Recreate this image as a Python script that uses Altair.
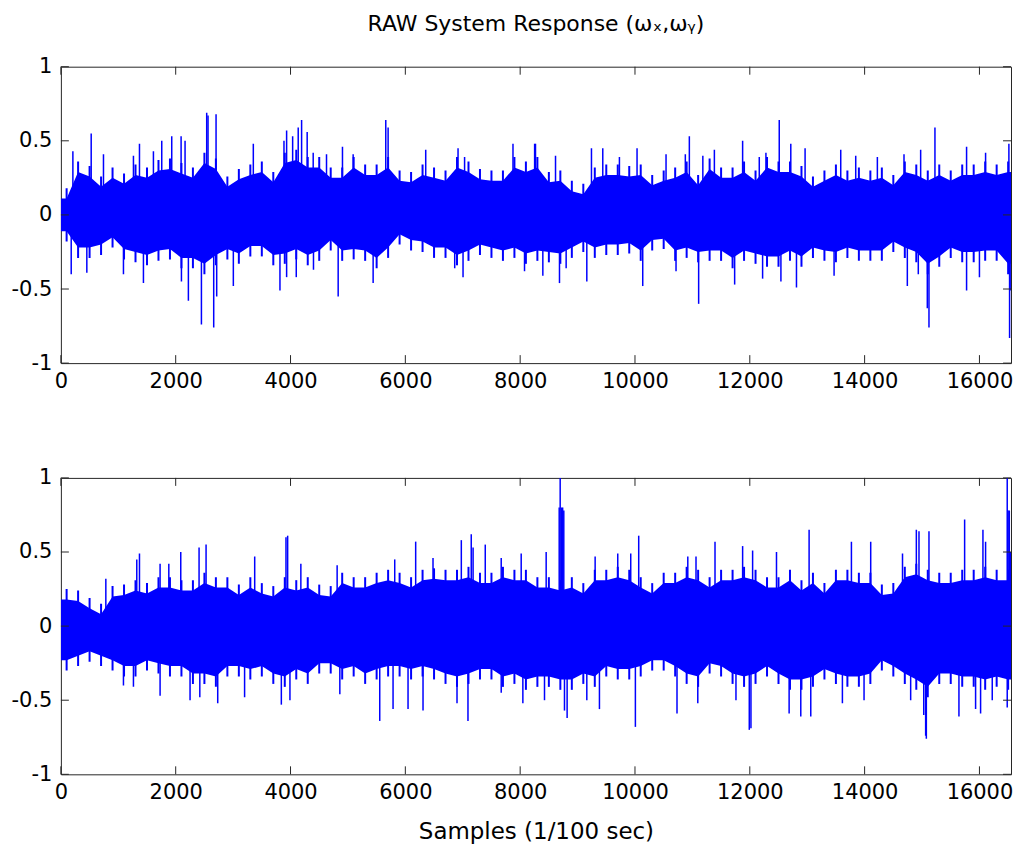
import altair as alt
import pandas as pd

# ---------------- data ----------------
N_SAMPLES = 16550          # length of the records (x axis ends here)
BIN = 200                  # envelope bins (samples per bin)

# top panel (omega_x)
# typical peak of the hairy fringe in each 200-sample bin
top_fr_hi = [0.18, 0.36, 0.33, 0.26, 0.32, 0.28, 0.34, 0.32, 0.37, 0.38, 0.35, 0.32, 0.42, 0.38, 0.26, 0.31, 0.34, 0.36, 0.29, 0.42, 0.44,
             0.39, 0.39, 0.32, 0.32, 0.39, 0.34, 0.34, 0.39, 0.30, 0.29, 0.34, 0.32, 0.30, 0.39, 0.36, 0.31, 0.30, 0.30, 0.39, 0.36, 0.39,
             0.29, 0.30, 0.23, 0.21, 0.32, 0.34, 0.34, 0.33, 0.34, 0.27, 0.30, 0.32, 0.36, 0.27, 0.38, 0.32, 0.32, 0.36, 0.30, 0.39, 0.36,
             0.36, 0.33, 0.26, 0.30, 0.34, 0.30, 0.32, 0.30, 0.32, 0.27, 0.36, 0.34, 0.30, 0.34, 0.30, 0.34, 0.34, 0.36, 0.34, 0.36]
top_fr_lo = [-0.18, -0.29, -0.29, -0.27, -0.22, -0.30, -0.32, -0.34, -0.31, -0.30, -0.36, -0.36, -0.40, -0.34, -0.30, -0.33, -0.28, -0.28, -0.34, -0.33, -0.30,
             -0.34, -0.31, -0.24, -0.31, -0.30, -0.31, -0.36, -0.29, -0.20, -0.24, -0.25, -0.29, -0.29, -0.34, -0.31, -0.27, -0.29, -0.31, -0.29, -0.33, -0.31,
             -0.32, -0.33, -0.29, -0.25, -0.29, -0.27, -0.27, -0.26, -0.31, -0.24, -0.23, -0.31, -0.29, -0.32, -0.31, -0.31, -0.36, -0.31, -0.33, -0.35, -0.35,
             -0.31, -0.35, -0.29, -0.31, -0.32, -0.29, -0.31, -0.31, -0.31, -0.25, -0.29, -0.32, -0.40, -0.35, -0.29, -0.32, -0.32, -0.31, -0.31, -0.40]
# edge of the solid core in each bin
top_core_hi = [0.11, 0.29, 0.26, 0.19, 0.25, 0.21, 0.27, 0.25, 0.30, 0.31, 0.28, 0.25, 0.35, 0.31, 0.19, 0.24, 0.27, 0.29, 0.22, 0.35, 0.37,
               0.32, 0.32, 0.25, 0.25, 0.32, 0.27, 0.27, 0.32, 0.23, 0.22, 0.27, 0.25, 0.23, 0.32, 0.29, 0.24, 0.23, 0.23, 0.32, 0.29, 0.32,
               0.22, 0.23, 0.16, 0.14, 0.25, 0.27, 0.27, 0.26, 0.27, 0.20, 0.23, 0.25, 0.29, 0.20, 0.31, 0.25, 0.25, 0.29, 0.23, 0.32, 0.29,
               0.29, 0.26, 0.19, 0.23, 0.27, 0.23, 0.25, 0.23, 0.25, 0.20, 0.29, 0.27, 0.23, 0.27, 0.23, 0.27, 0.27, 0.29, 0.27, 0.29]
top_core_lo = [-0.11, -0.22, -0.22, -0.20, -0.15, -0.23, -0.25, -0.27, -0.24, -0.23, -0.29, -0.29, -0.33, -0.27, -0.23, -0.26, -0.21, -0.21, -0.27, -0.26, -0.23,
               -0.27, -0.24, -0.17, -0.24, -0.23, -0.24, -0.29, -0.22, -0.13, -0.17, -0.18, -0.22, -0.22, -0.27, -0.24, -0.20, -0.22, -0.24, -0.22, -0.26, -0.24,
               -0.25, -0.26, -0.22, -0.18, -0.22, -0.20, -0.20, -0.19, -0.24, -0.17, -0.16, -0.24, -0.22, -0.25, -0.24, -0.24, -0.29, -0.24, -0.26, -0.28, -0.28,
               -0.24, -0.28, -0.22, -0.24, -0.25, -0.22, -0.24, -0.24, -0.24, -0.18, -0.22, -0.25, -0.33, -0.28, -0.22, -0.25, -0.25, -0.24, -0.24, -0.33]
# individual spikes sticking out of the band (sample, value)
top_spike_x = [209, 528, 742, 1264, 1369, 1612, 1757, 1931, 2094, 2163, 2540, 2563, 2703, 3352, 3886, 3932, 4037, 4134, 4193,
               4290, 4395, 4627, 4905, 5091, 5659, 5700, 6355, 6918, 7032, 7875, 8252,
               8267, 8616, 9242, 9439, 9729, 10036, 10541, 10877, 10947, 11182, 11383, 11875, 12165, 12281, 12513,
               12714, 12963, 13584, 13845, 14222, 14686, 14976, 15225, 15776, 16107, 16513,
               180, 452, 1090, 1438, 2100, 2221, 2448, 2662, 2714, 3004, 3816, 3932,
               4100, 4400, 4830, 5439, 6860, 7005, 8076,
               8395, 8685, 8801, 9161, 10135, 10715, 11109, 11736, 12223, 12542,
               12813, 13468, 14744, 14935, 15092, 15121, 15776, 16000, 16525, 16535]
top_spike_y = [0.43, 0.55, 0.41, 0.40, 0.48, 0.43, 0.50, 0.53, 0.53, 0.50, 0.69, 0.67, 0.68, 0.48, 0.50, 0.57, 0.53, 0.59, 0.64,
               0.56, 0.42, 0.41, 0.46, 0.41, 0.64, 0.59, 0.44, 0.45, 0.39, 0.48, 0.48,
               0.48, 0.40, 0.45, 0.45, 0.39, 0.45, 0.41, 0.41, 0.53, 0.40, 0.44, 0.50, 0.39, 0.42, 0.64,
               0.48, 0.45, 0.44, 0.40, 0.39, 0.41, 0.44, 0.59, 0.46, 0.42, 0.48,
               -0.40, -0.39, -0.40, -0.46, -0.45, -0.58, -0.74, -0.76, -0.55, -0.48, -0.51, -0.42,
               -0.42, -0.37, -0.55, -0.46, -0.36, -0.42, -0.38,
               -0.41, -0.46, -0.36, -0.45, -0.48, -0.38, -0.60, -0.47, -0.43, -0.45,
               -0.49, -0.41, -0.48, -0.40, -0.63, -0.76, -0.51, -0.42, -0.83, -0.51]

# bottom panel (omega_y)
bot_fr_hi = [0.25, 0.24, 0.19, 0.15, 0.27, 0.28, 0.31, 0.29, 0.33, 0.33, 0.31, 0.31, 0.36, 0.33, 0.33, 0.28, 0.33, 0.29, 0.27, 0.33, 0.31,
             0.33, 0.28, 0.27, 0.36, 0.33, 0.33, 0.36, 0.38, 0.36, 0.33, 0.38, 0.39, 0.38, 0.38, 0.40, 0.36, 0.36, 0.40, 0.38, 0.38, 0.33,
             0.33, 0.31, 0.33, 0.29, 0.38, 0.38, 0.40, 0.38, 0.33, 0.29, 0.36, 0.36, 0.40, 0.38, 0.33, 0.38, 0.38, 0.40, 0.38, 0.33, 0.33,
             0.38, 0.31, 0.36, 0.29, 0.38, 0.38, 0.36, 0.36, 0.28, 0.29, 0.40, 0.42, 0.38, 0.36, 0.36, 0.38, 0.38, 0.40, 0.38, 0.38]
bot_fr_lo = [-0.30, -0.27, -0.24, -0.27, -0.30, -0.34, -0.34, -0.30, -0.32, -0.34, -0.34, -0.39, -0.39, -0.41, -0.34, -0.34, -0.36, -0.34, -0.39, -0.41, -0.36,
             -0.39, -0.32, -0.32, -0.36, -0.34, -0.39, -0.36, -0.34, -0.34, -0.36, -0.34, -0.36, -0.39, -0.41, -0.39, -0.36, -0.36, -0.41, -0.39, -0.43, -0.41,
             -0.41, -0.43, -0.43, -0.39, -0.41, -0.34, -0.36, -0.36, -0.34, -0.30, -0.30, -0.34, -0.39, -0.41, -0.32, -0.34, -0.39, -0.41, -0.39, -0.34, -0.39,
             -0.43, -0.43, -0.41, -0.36, -0.39, -0.41, -0.41, -0.39, -0.30, -0.34, -0.39, -0.43, -0.48, -0.39, -0.39, -0.41, -0.41, -0.43, -0.41, -0.43]
bot_core_hi = [0.18, 0.17, 0.12, 0.08, 0.20, 0.21, 0.24, 0.22, 0.26, 0.26, 0.24, 0.24, 0.29, 0.26, 0.26, 0.21, 0.26, 0.22, 0.20, 0.26, 0.24,
               0.26, 0.21, 0.20, 0.29, 0.26, 0.26, 0.29, 0.31, 0.29, 0.26, 0.31, 0.32, 0.31, 0.31, 0.33, 0.29, 0.29, 0.33, 0.31, 0.31, 0.26,
               0.26, 0.24, 0.26, 0.22, 0.31, 0.31, 0.33, 0.31, 0.26, 0.22, 0.29, 0.29, 0.33, 0.31, 0.26, 0.31, 0.31, 0.33, 0.31, 0.26, 0.26,
               0.31, 0.24, 0.29, 0.22, 0.31, 0.31, 0.29, 0.29, 0.21, 0.22, 0.33, 0.35, 0.31, 0.29, 0.29, 0.31, 0.31, 0.33, 0.31, 0.31]
bot_core_lo = [-0.23, -0.20, -0.17, -0.20, -0.23, -0.27, -0.27, -0.23, -0.25, -0.27, -0.27, -0.32, -0.32, -0.34, -0.27, -0.27, -0.29, -0.27, -0.32, -0.34, -0.29,
               -0.32, -0.25, -0.25, -0.29, -0.27, -0.32, -0.29, -0.27, -0.27, -0.29, -0.27, -0.29, -0.32, -0.34, -0.32, -0.29, -0.29, -0.34, -0.32, -0.36, -0.34,
               -0.34, -0.36, -0.36, -0.32, -0.34, -0.27, -0.29, -0.29, -0.27, -0.23, -0.23, -0.27, -0.32, -0.34, -0.25, -0.27, -0.32, -0.34, -0.32, -0.27, -0.32,
               -0.36, -0.36, -0.34, -0.29, -0.32, -0.34, -0.34, -0.32, -0.23, -0.27, -0.32, -0.36, -0.41, -0.32, -0.32, -0.34, -0.34, -0.36, -0.34, -0.36]
bot_spike_x = [783, 1322, 1369, 1728, 1880, 2088, 2407, 2529, 3376, 3921, 3950,
               4180, 4812, 5815, 6180, 6482, 6975, 7148, 7180, 7392, 7670, 8018,
               8453, 8680, 8697, 8720, 8740, 8760, 9306, 9700, 9926, 10065, 10920, 11063, 11394, 11875, 12049,
               12465, 13033, 13770, 14106, 14660, 14901, 14947, 15121, 15742, 16061, 16107, 16484, 16500, 16520, 16540,
               1090, 1264, 1728, 2250, 2420, 2732, 3200, 3840, 3990,
               4859, 5554, 5786, 6047, 6308, 6900, 7091, 7670, 8047,
               8424, 8772, 8818, 9161, 9381, 10007, 10732, 11094, 11759, 11991, 12020,
               12685, 12888, 13062, 13613, 13990, 14802, 15030, 15063, 15075, 15643, 15933, 16020, 16223, 16484]
bot_spike_y = [0.32, 0.45, 0.49, 0.42, 0.42, 0.50, 0.53, 0.55, 0.47, 0.60, 0.61,
               0.42, 0.41, 0.45, 0.57, 0.46, 0.58, 0.62, 0.53, 0.55, 0.46, 0.49,
               0.50, 0.80, 1.00, 0.80, 0.80, 0.78, 0.47, 0.49, 0.49, 0.61, 0.47, 0.47, 0.57, 0.54, 0.51,
               0.50, 0.65, 0.57, 0.57, 0.49, 0.65, 0.64, 0.64, 0.72, 0.65, 0.57, 1.00, 0.78, 0.78, 0.50,
               -0.40, -0.41, -0.47, -0.50, -0.48, -0.52, -0.48, -0.53, -0.50,
               -0.46, -0.64, -0.56, -0.56, -0.57, -0.52, -0.64, -0.45, -0.52,
               -0.50, -0.57, -0.62, -0.50, -0.56, -0.68, -0.59, -0.52, -0.50, -0.70, -0.69,
               -0.59, -0.61, -0.61, -0.52, -0.50, -0.50, -0.60, -0.74, -0.76, -0.61, -0.56, -0.59, -0.50, -0.55]

x_ticks = [0, 2000, 4000, 6000, 8000, 10000, 12000, 14000, 16000]
y_ticks = [-1, -0.5, 0, 0.5, 1]

TITLE = "RAW System Response (ωₓ,ωᵧ)"
X_TITLE = "Samples (1/100 sec)"

# ---------------- styling ----------------
W, H = 952, 297
BLUE = "#0000ff"
FRAME = "#262626"
FONT = "DejaVu Sans"
TICK_LEN = 8

xscale = alt.Scale(domain=[0, N_SAMPLES], nice=False, zero=False)
yscale = alt.Scale(domain=[-1, 1], nice=False, zero=False)


def panel(core_hi, core_lo, fr_hi, fr_lo, sx, sy, x_title=None, title=None):
    n = len(core_hi)
    centers = [i * BIN + BIN / 2 for i in range(n)]
    xs = [0] + centers + [N_SAMPLES]
    core = pd.DataFrame({"s": xs,
                         "hi": [core_hi[0]] + core_hi + [core_hi[-1]],
                         "lo": [core_lo[0]] + core_lo + [core_lo[-1]]})
    fringe = pd.DataFrame({"s": centers, "hi": fr_hi, "lo": fr_lo})
    spikes = pd.DataFrame({"s": sx, "v": sy, "z": [0.0] * len(sx)})
    xt = pd.DataFrame({"t": x_ticks})
    yt = pd.DataFrame({"t": y_ticks})

    x_axis_kw = dict(values=x_ticks, labelExpr="'' + datum.value", labelPadding=7,
                     labelBaseline="top", labelFlush=False, labelOverlap=False)
    if x_title:
        x_axis = alt.Axis(title=x_title, titlePadding=18, **x_axis_kw)
    else:
        x_axis = alt.Axis(title=None, **x_axis_kw)

    area = alt.Chart(core).mark_area(color=BLUE, clip=True).encode(
        x=alt.X("s:Q", scale=xscale, axis=x_axis),
        y=alt.Y("lo:Q", scale=yscale,
                axis=alt.Axis(title=None, values=y_ticks, labelExpr="'' + datum.value",
                              labelPadding=9, labelBaseline="middle", labelFlush=False,
                              labelOverlap=False)),
        y2="hi:Q",
    )
    fr = alt.Chart(fringe).mark_rule(color=BLUE, strokeWidth=2, clip=True).encode(
        x=alt.X("s:Q", scale=xscale), y=alt.Y("lo:Q", scale=yscale), y2="hi:Q"
    )
    spk = alt.Chart(spikes).mark_rule(color=BLUE, strokeWidth=1.5, clip=True).encode(
        x=alt.X("s:Q", scale=xscale), y=alt.Y("v:Q", scale=yscale), y2="z:Q"
    )
    tb = alt.Chart(xt).mark_rule(color=FRAME, strokeWidth=1).encode(
        x=alt.X("t:Q", scale=xscale), y=alt.value(H), y2=alt.value(H - TICK_LEN))
    tt = alt.Chart(xt).mark_rule(color=FRAME, strokeWidth=1).encode(
        x=alt.X("t:Q", scale=xscale), y=alt.value(0), y2=alt.value(TICK_LEN))
    tl = alt.Chart(yt).mark_rule(color=FRAME, strokeWidth=1).encode(
        y=alt.Y("t:Q", scale=yscale), x=alt.value(0), x2=alt.value(TICK_LEN))
    tr = alt.Chart(yt).mark_rule(color=FRAME, strokeWidth=1).encode(
        y=alt.Y("t:Q", scale=yscale), x=alt.value(W - TICK_LEN), x2=alt.value(W))
    layer = alt.layer(area, fr, spk, tb, tt, tl, tr).properties(width=W, height=H)
    if title:
        layer = layer.properties(title=alt.TitleParams(title, anchor="middle", frame="group",
                                                       font=FONT, fontSize=22, fontWeight="normal",
                                                       color="black", offset=20))
    return layer


top = panel(top_core_hi, top_core_lo, top_fr_hi, top_fr_lo, top_spike_x, top_spike_y, title=TITLE)
bottom = panel(bot_core_hi, bot_core_lo, bot_fr_hi, bot_fr_lo, bot_spike_x, bot_spike_y, x_title=X_TITLE)

chart = alt.vconcat(top, bottom, spacing=115, bounds="flush").properties(
    padding={"left": 10, "top": 11, "right": 5, "bottom": 5},
    background="white",
).configure_view(stroke=FRAME, strokeWidth=1).configure_axis(
    domain=False, ticks=False, tickSize=0, grid=False,
    labelFont=FONT, labelFontSize=21, labelColor="black",
    titleFont=FONT, titleFontSize=23, titleFontWeight="normal", titleColor="black",
).configure_concat(spacing=115)

chart.save("out.html", embed_options={"renderer": "svg", "actions": False})
